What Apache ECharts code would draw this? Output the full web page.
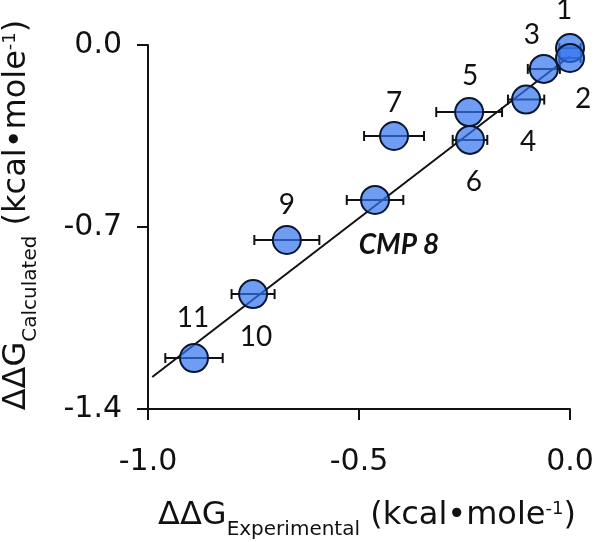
<!DOCTYPE html>
<html><head><meta charset="utf-8">
<script src="https://cdn.jsdelivr.net/npm/echarts@6/dist/echarts.min.js"></script>
<style>html,body{margin:0;padding:0;background:#fff}#c{width:600px;height:542px}</style>
</head><body><div id="c"></div>
<script>
// ---- data ----
const pointNames = ['1', '2', '3', '4', '5', '6', '7', 'CMP 8', '9', '10', '11'];
const expValues  = [0.0, 0.0, -0.062, -0.104, -0.239, -0.237, -0.417, -0.462, -0.671, -0.751, -0.891];
const calcValues = [-0.012, -0.050, -0.092, -0.210, -0.258, -0.365, -0.350, -0.596, -0.750, -0.958, -1.204];
const expErrors  = [0.025, 0.025, 0.038, 0.043, 0.078, 0.041, 0.071, 0.067, 0.077, 0.051, 0.068];
const fitX = [-0.99, 0.0];
const fitY = [-1.277, -0.042];
const xTicks = [-1.0, -0.5, 0.0];
const yTicks = [-1.4, -0.7, 0.0];

// ---- layout (pixel offsets of the point labels from marker centre) ----
const labelOffsets = [[-6, -38], [13, 41], [-12, -34], [2, 42], [1, -36], [4, 42], [0, -33], [24, 45], [0, -35], [3, 43], [-1, -40]];

const ink = '#111';
const tickFont = 'DejaVu Sans';
const nameRich = {
  m: { fontFamily: tickFont, fontSize: 32, lineHeight: 32, verticalAlign: 'top', color: ink },
  s: { fontFamily: tickFont, fontSize: 20, lineHeight: 59, verticalAlign: 'middle', color: ink },
  p: { fontFamily: tickFont, fontSize: 18, lineHeight: 22, verticalAlign: 'top', color: ink }
};

const scatterData = pointNames.map((n, i) => ({
  name: n,
  value: [expValues[i], calcValues[i]],
  label: {
    fontWeight: n.startsWith('CMP') ? 'bold' : 'normal',
    fontStyle: n.startsWith('CMP') ? 'italic' : 'normal'
  }
}));
const errData = pointNames.map((n, i) => [expValues[i], calcValues[i], expErrors[i]]);
const fitData = fitX.map((x, i) => [x, fitY[i]]);

const chart = echarts.init(document.getElementById('c'), null, { renderer: 'canvas' });
chart.setOption({
  animation: false,
  backgroundColor: '#fff',
  grid: { left: 148, right: 30, top: 45, bottom: 133, containLabel: false, outerBoundsMode: 'none' },
  xAxis: {
    type: 'value',
    min: xTicks[0], max: xTicks[xTicks.length - 1], interval: xTicks[1] - xTicks[0],
    axisLine: { onZero: false, lineStyle: { color: ink, width: 2 } },
    axisTick: { inside: false, length: 11, lineStyle: { color: ink, width: 2 } },
    splitLine: { show: false },
    axisLabel: { margin: 38, fontFamily: tickFont, fontSize: 30, color: ink, formatter: v => v.toFixed(1) },
    name: '{m|ΔΔG}{s|Experimental}{m| (kcal•mole}{p|-1}{m|)}',
    nameLocation: 'middle', nameGap: 91,
    nameTextStyle: { rich: nameRich, padding: [0, 0, 0, 16] }
  },
  yAxis: {
    type: 'value',
    min: yTicks[0], max: yTicks[yTicks.length - 1], interval: yTicks[1] - yTicks[0],
    axisLine: { onZero: false, lineStyle: { color: ink, width: 2 } },
    axisTick: { inside: false, length: 11, lineStyle: { color: ink, width: 2 } },
    splitLine: { show: false },
    axisLabel: { margin: 26, fontFamily: tickFont, fontSize: 30, color: ink, formatter: v => v.toFixed(1) },
    name: '{m|ΔΔG}{s|Calculated}{m| (kcal•mole}{p|-1}{m|)}',
    nameLocation: 'middle', nameGap: 88, nameRotate: 90,
    nameTextStyle: { rich: nameRich, padding: [0, 0, 0, 24] }
  },
  series: [
    {
      type: 'line', data: fitData, symbol: 'none', z: 1,
      lineStyle: { color: ink, width: 2 }, silent: true
    },
    {
      type: 'custom', z: 2, data: errData, clip: false,
      encode: { x: 0, y: 1 },
      renderItem: (params, api) => {
        const x = api.value(0), y = api.value(1), e = api.value(2);
        const p0 = api.coord([x - e, y]);
        const p1 = api.coord([x + e, y]);
        const h = 5;
        const st = { stroke: ink, lineWidth: 2 };
        return {
          type: 'group',
          children: [
            { type: 'line', shape: { x1: p0[0], y1: p0[1], x2: p1[0], y2: p1[1] }, style: st },
            { type: 'line', shape: { x1: p0[0], y1: p0[1] - h, x2: p0[0], y2: p0[1] + h }, style: st },
            { type: 'line', shape: { x1: p1[0], y1: p1[1] - h, x2: p1[0], y2: p1[1] + h }, style: st }
          ]
        };
      }
    },
    {
      type: 'scatter', z: 3, data: scatterData, clip: false,
      symbol: 'circle', symbolSize: 28,
      itemStyle: { color: 'rgba(50,115,238,0.7)', borderColor: '#0b1630', borderWidth: 2, opacity: 1 },
      label: {
        show: true, position: 'inside', formatter: '{b}',
        fontFamily: 'Lato', fontSize: 28, color: ink
      },
      labelLayout: p => ({
        dx: labelOffsets[p.dataIndex][0],
        dy: labelOffsets[p.dataIndex][1],
        hideOverlap: false
      })
    }
  ]
});
</script>
</body></html>
